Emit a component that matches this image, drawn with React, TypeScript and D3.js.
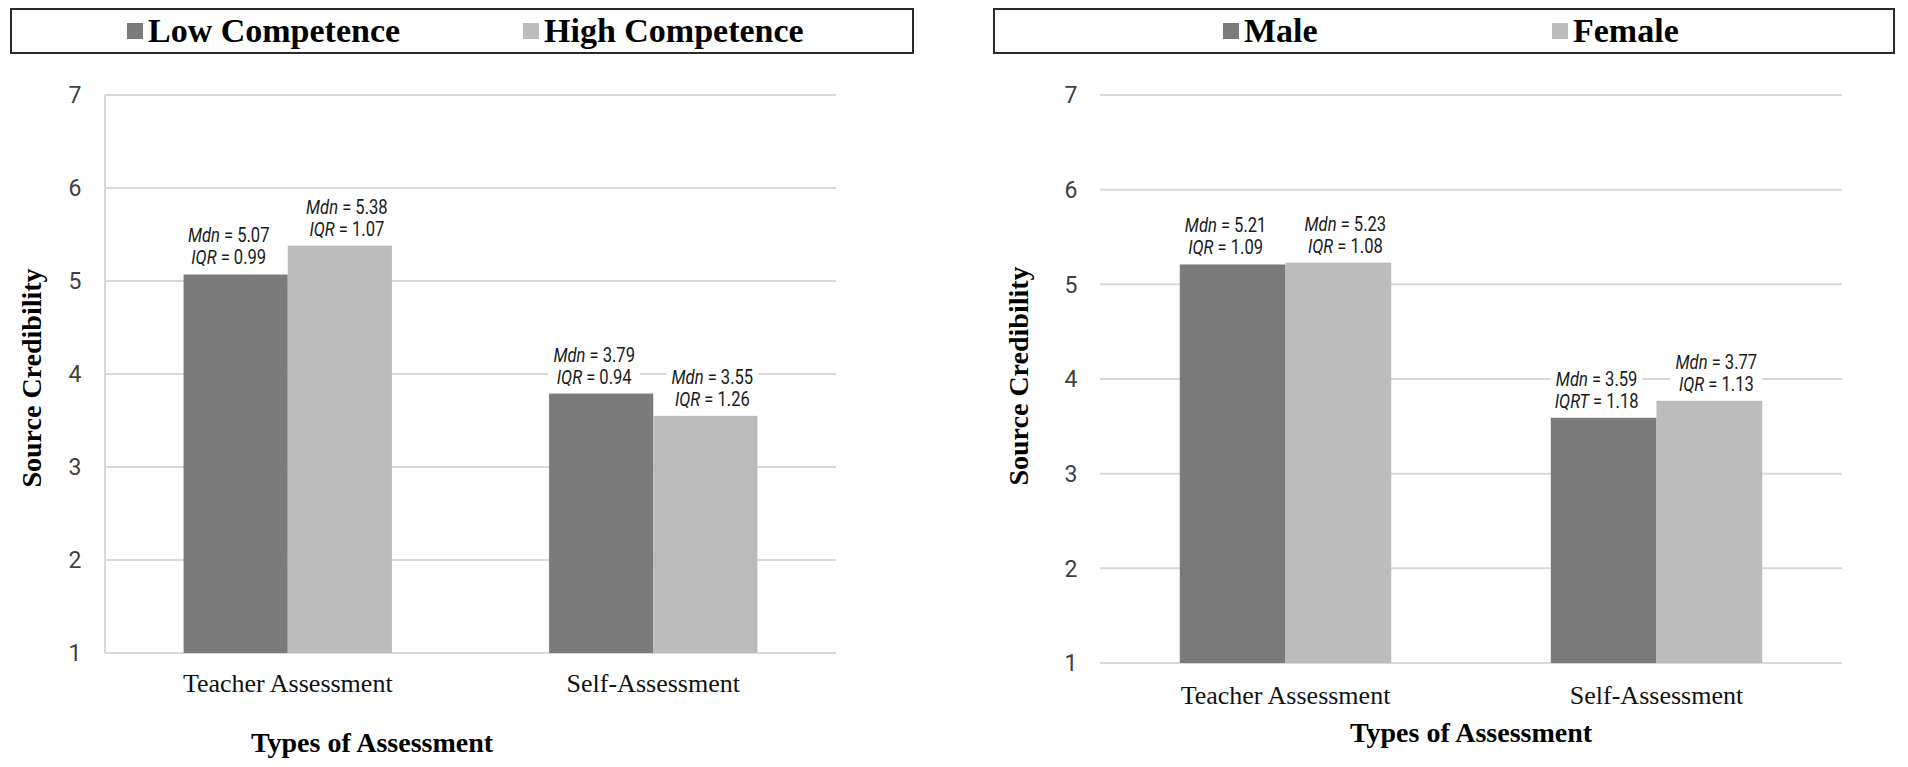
import * as d3 from 'd3';
import { useEffect, useRef } from 'react';

const categories = ['Teacher Assessment', 'Self-Assessment'];
const yTicks = [1, 2, 3, 4, 5, 6, 7];

const competenceSeries = ['Low Competence', 'High Competence'];
const lowCompetenceMdn = [5.07, 3.79];
const highCompetenceMdn = [5.38, 3.55];
const lowCompetenceIqr = [0.99, 0.94];
const highCompetenceIqr = [1.07, 1.26];
const lowCompetenceIqrLabel = ['IQR', 'IQR'];
const highCompetenceIqrLabel = ['IQR', 'IQR'];

const genderSeries = ['Male', 'Female'];
const maleMdn = [5.21, 3.59];
const femaleMdn = [5.23, 3.77];
const maleIqr = [1.09, 1.18];
const femaleIqr = [1.08, 1.13];
// the published figure really prints "IQRT" over the male self-assessment bar
const maleIqrLabel = ['IQR', 'IQRT'];
const femaleIqrLabel = ['IQR', 'IQR'];

const yTitle = 'Source Credibility';
const xTitle = 'Types of Assessment';

const colors = ['#7b7b7b', '#bcbcbc'];
const gridColor = '#d9d9d9';
const serif = '"Liberation Serif", "Times New Roman", serif';
const sans = 'Roboto, "Open Sans", sans-serif';

type Panel = {
  series: string[];
  mdn: number[][];
  iqr: number[][];
  iqrLabel: string[][];
  left: number;
  right: number;
  top: number;
  bottom: number;
  frameLine: boolean;
  box: { x: number; y: number; w: number; h: number };
  legendX: number[];
  tickX: number;
  yTitleX: number;
  yTitleY: number;
  catY: number;
  xTitleX: number;
  xTitleY: number;
};

const panels: Panel[] = [
  {
    series: competenceSeries,
    mdn: [lowCompetenceMdn, highCompetenceMdn],
    iqr: [lowCompetenceIqr, highCompetenceIqr],
    iqrLabel: [lowCompetenceIqrLabel, highCompetenceIqrLabel],
    left: 105,
    right: 836,
    top: 95,
    bottom: 653,
    frameLine: true,
    box: { x: 11, y: 9, w: 902, h: 44 },
    legendX: [127, 523],
    tickX: 75,
    yTitleX: 41,
    yTitleY: 378,
    catY: 692,
    xTitleX: 372,
    xTitleY: 752,
  },
  {
    series: genderSeries,
    mdn: [maleMdn, femaleMdn],
    iqr: [maleIqr, femaleIqr],
    iqrLabel: [maleIqrLabel, femaleIqrLabel],
    left: 1100,
    right: 1842,
    top: 95,
    bottom: 663,
    frameLine: false,
    box: { x: 994, y: 9, w: 900, h: 44 },
    legendX: [1223, 1552],
    tickX: 1071,
    yTitleX: 1028,
    yTitleY: 376,
    catY: 704,
    xTitleX: 1471,
    xTitleY: 742,
  },
];

export default function App() {
  const ref = useRef<SVGSVGElement>(null);

  useEffect(() => {
    const svg = d3.select(ref.current);
    svg.selectAll('*').remove();

    svg.append('rect').attr('width', 1908).attr('height', 767).attr('fill', '#fff');

    panels.forEach((p) => {
      const g = svg.append('g');

      const x = d3.scaleBand<string>().domain(categories).range([p.left, p.right]);
      const groupW = x.bandwidth() * 0.57;
      const x1 = d3.scaleBand<string>().domain(p.series).range([0, groupW]);
      const y = d3.scaleLinear().domain([1, 7]).range([p.bottom, p.top]);

      // legend box
      g.append('rect')
        .attr('x', p.box.x)
        .attr('y', p.box.y)
        .attr('width', p.box.w)
        .attr('height', p.box.h)
        .attr('fill', '#fff')
        .attr('stroke', '#2a2a2a')
        .attr('stroke-width', 2);

      p.series.forEach((s, i) => {
        g.append('rect')
          .attr('x', p.legendX[i])
          .attr('y', 23)
          .attr('width', 16)
          .attr('height', 16)
          .attr('fill', colors[i]);
        g.append('text')
          .attr('x', p.legendX[i] + 21)
          .attr('y', 42)
          .style('font-family', serif)
          .style('font-weight', 'bold')
          .style('font-size', '34px')
          .attr('fill', '#000')
          .text(s);
      });

      // gridlines
      g.selectAll('.grid')
        .data(yTicks)
        .enter()
        .append('line')
        .attr('x1', p.left)
        .attr('x2', p.right)
        .attr('y1', (d) => y(d))
        .attr('y2', (d) => y(d))
        .attr('stroke', gridColor)
        .attr('stroke-width', 2);

      if (p.frameLine) {
        g.append('line')
          .attr('x1', p.left)
          .attr('x2', p.left)
          .attr('y1', y(1))
          .attr('y2', y(7))
          .attr('stroke', gridColor)
          .attr('stroke-width', 2);
      }

      // tick labels
      g.selectAll('.tick')
        .data(yTicks)
        .enter()
        .append('text')
        .attr('x', p.tickX)
        .attr('y', (d) => y(d))
        .attr('dy', '0.36em')
        .attr('text-anchor', 'middle')
        .style('font-family', sans)
        .style('font-size', '23px')
        .attr('fill', '#404040')
        .text((d) => d);

      // bars
      p.series.forEach((s, si) => {
        categories.forEach((c, ci) => {
          const bx = x(c)! + (x.bandwidth() - groupW) / 2 + x1(s)!;
          const v = p.mdn[si][ci];
          g.append('rect')
            .attr('x', bx)
            .attr('y', y(v))
            .attr('width', x1.bandwidth())
            .attr('height', y(1) - y(v))
            .attr('fill', colors[si]);
        });
      });

      // data labels (Mdn / IQR)
      p.series.forEach((s, si) => {
        categories.forEach((c, ci) => {
          const v = p.mdn[si][ci];
          const cx =
            x(c)! + (x.bandwidth() - groupW) / 2 + x1(s)! + x1.bandwidth() / 2 + (si === 0 ? -7 : 7);
          const top = y(v);
          const lab = g.append('g');
          lab
            .append('rect')
            .attr('x', cx - 46)
            .attr('y', top - 50)
            .attr('width', 92)
            .attr('height', 44)
            .attr('fill', '#fff');
          const lines = [
            { k: 'Mdn', val: v, off: 32 },
            { k: p.iqrLabel[si][ci], val: p.iqr[si][ci], off: 10 },
          ];
          lines.forEach((l) => {
            const t = lab
              .append('text')
              .attr('transform', `translate(${cx},${top - l.off}) scale(0.85,1)`)
              .attr('text-anchor', 'middle')
              .style('font-family', sans)
              .style('font-size', '19.5px')
              .attr('fill', '#1a1a1a');
            t.append('tspan').style('font-style', 'italic').text(l.k);
            t.append('tspan').text(` = ${l.val.toFixed(2)}`);
          });
        });
      });

      // category labels
      g.selectAll('.cat')
        .data(categories)
        .enter()
        .append('text')
        .attr('x', (d) => x(d)! + x.bandwidth() / 2)
        .attr('y', p.catY)
        .attr('text-anchor', 'middle')
        .style('font-family', serif)
        .style('font-size', '26px')
        .attr('fill', '#111')
        .text((d) => d);

      // axis titles
      g.append('text')
        .attr('x', p.xTitleX)
        .attr('y', p.xTitleY)
        .attr('text-anchor', 'middle')
        .style('font-family', serif)
        .style('font-weight', 'bold')
        .style('font-size', '28px')
        .attr('fill', '#000')
        .text(xTitle);

      g.append('text')
        .attr('transform', `translate(${p.yTitleX},${p.yTitleY}) rotate(-90)`)
        .attr('text-anchor', 'middle')
        .style('font-family', serif)
        .style('font-weight', 'bold')
        .style('font-size', '28px')
        .attr('fill', '#000')
        .text(yTitle);
    });
  }, []);

  return (
    <svg
      ref={ref}
      width={1908}
      height={767}
      style={{ position: 'absolute', left: 0, top: 0, display: 'block' }}
    />
  );
}
